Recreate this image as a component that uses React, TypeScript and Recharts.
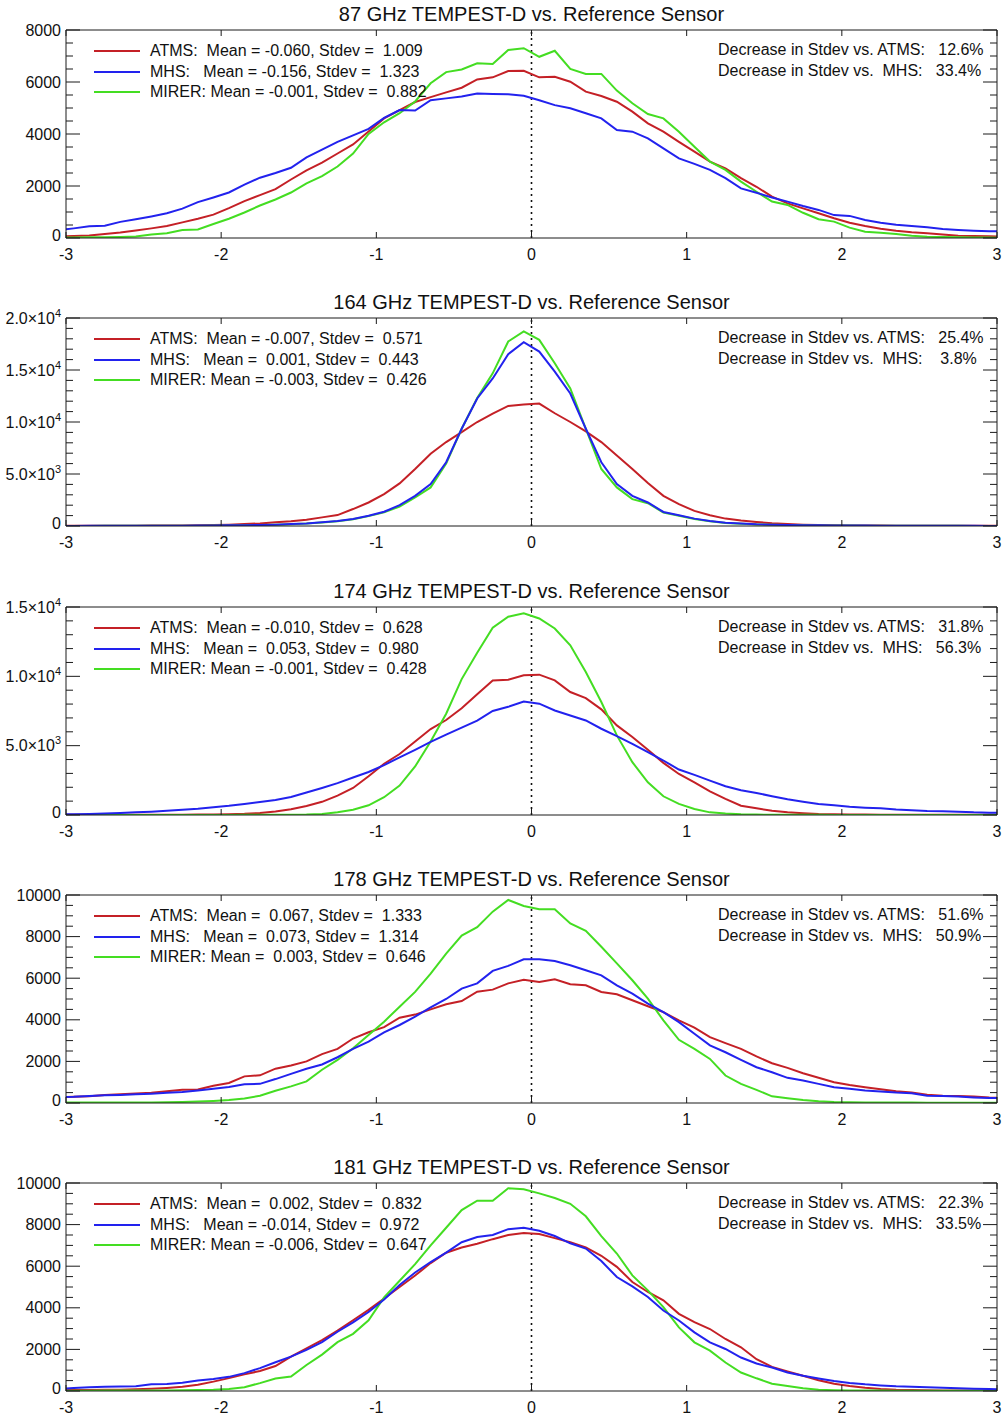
import React from 'react';
import { LineChart, Line, XAxis, YAxis, ReferenceLine } from 'recharts';

const FONT = '"Liberation Sans", Arial, Helvetica, sans-serif';
const RED = '#c42026';
const BLUE = '#2222ee';
const GREEN = '#44dd22';
const AXIS = '#1a1a1a';

// histogram bin centres (0.1 wide); one extra bin past each end so lines reach the frame
const binX = [
  -3.05, -2.95, -2.85, -2.75, -2.65, -2.55, -2.45, -2.35, -2.25, -2.15,
  -2.05, -1.95, -1.85, -1.75, -1.65, -1.55, -1.45, -1.35, -1.25, -1.15,
  -1.05, -0.95, -0.85, -0.75, -0.65, -0.55, -0.45, -0.35, -0.25, -0.15,
  -0.05, 0.05, 0.15, 0.25, 0.35, 0.45, 0.55, 0.65, 0.75, 0.85,
  0.95, 1.05, 1.15, 1.25, 1.35, 1.45, 1.55, 1.65, 1.75, 1.85,
  1.95, 2.05, 2.15, 2.25, 2.35, 2.45, 2.55, 2.65, 2.75, 2.85,
  2.95, 3.05,
];
const xTicks = [-3, -2, -1, 0, 1, 2, 3];

// ---- 87 GHz
const atms87 = [
  60, 75, 100, 150, 210, 290, 370, 460, 600, 740,
  900, 1150, 1420, 1650, 1880, 2250, 2600, 2900, 3250, 3600,
  4100, 4600, 4920, 5230, 5420, 5600, 5780, 6100, 6180, 6420,
  6430, 6180, 6200, 6010, 5630, 5460, 5240, 4860, 4410, 4090,
  3700, 3320, 2940, 2680, 2300, 1970, 1590, 1330, 1140, 950,
  760, 590, 460, 360, 280, 220, 180, 130, 90, 80,
  65, 55,
];
const mhs87 = [
  300, 370, 450, 470, 620, 720, 830, 950, 1130, 1380,
  1560, 1750, 2050, 2320, 2500, 2700, 3100, 3400, 3700, 3950,
  4200, 4620, 4920, 4900, 5300, 5370, 5440, 5560, 5540, 5525,
  5470, 5300, 5110, 4990, 4800, 4600, 4150, 4090, 3830, 3450,
  3060, 2850, 2620, 2300, 1910, 1740, 1560, 1400, 1230, 1080,
  880, 850, 690, 590, 510, 460, 410, 350, 310, 280,
  260, 250,
];
const mirer87 = [
  20, 20, 25, 30, 40, 60, 130, 180, 310, 330,
  540, 740, 980, 1250, 1480, 1750, 2100, 2380, 2750, 3250,
  4000, 4450, 4800, 5250, 5950, 6380, 6480, 6720, 6690, 7230,
  7300, 6970, 7200, 6500, 6310, 6310, 5670, 5180, 4770, 4600,
  4090, 3510, 2940, 2620, 2170, 1780, 1400, 1270, 970, 720,
  630, 400, 240, 200, 150, 90, 50, 35, 25, 20,
  15, 10,
];

// ---- 164 GHz
const atms164 = [
  20, 20, 25, 25, 30, 35, 40, 50, 60, 75,
  100, 130, 190, 250, 350, 450, 600, 830, 1050, 1630,
  2260, 3060, 4100, 5480, 6940, 8070, 9030, 10000, 10800, 11550,
  11680, 11770, 10840, 10000, 9100, 8070, 6770, 5480, 4130, 2900,
  2100, 1450, 1030, 710, 520, 390, 260, 190, 130, 100,
  70, 55, 45, 40, 35, 30, 25, 25, 20, 20,
  15, 15,
];
const mhs164 = [
  10, 10, 15, 15, 20, 20, 25, 30, 35, 45,
  55, 65, 80, 100, 130, 190, 250, 350, 480, 670,
  990, 1370, 2000, 2900, 4030, 6130, 9350, 12260, 14190, 16520,
  17680, 16770, 14840, 12740, 9350, 6130, 4030, 2900, 2260, 1350,
  1030, 710, 480, 320, 230, 160, 130, 100, 80, 65,
  55, 45, 40, 35, 30, 25, 20, 20, 15, 15,
  10, 10,
];
const mirer164 = [
  10, 10, 10, 15, 15, 20, 20, 25, 30, 35,
  45, 55, 70, 90, 120, 170, 230, 330, 460, 640,
  950, 1310, 1870, 2740, 3710, 6000, 9350, 12300, 14680, 17740,
  18710, 17900, 15650, 13230, 9350, 5480, 3710, 2580, 2190, 1300,
  980, 680, 450, 300, 210, 150, 120, 90, 70, 55,
  45, 40, 35, 30, 25, 20, 20, 15, 15, 10,
  10, 10,
];

// ---- 174 GHz
const atms174 = [
  10, 10, 10, 12, 15, 15, 20, 20, 25, 30,
  40, 55, 90, 150, 260, 420, 650, 950, 1400, 1950,
  2800, 3700, 4400, 5300, 6200, 6850, 7700, 8700, 9700, 9750,
  10070, 10120, 9710, 8870, 8430, 7620, 6460, 5620, 4700, 3760,
  2960, 2360, 1710, 1160, 670, 480, 310, 190, 120, 70,
  50, 40, 30, 25, 20, 15, 15, 10, 10, 10,
  10, 10,
];
const mhs174 = [
  50, 55, 70, 100, 140, 190, 240, 300, 370, 450,
  560, 660, 800, 940, 1080, 1300, 1620, 1950, 2300, 2700,
  3100, 3600, 4150, 4700, 5280, 5800, 6300, 6800, 7500, 7800,
  8190, 8030, 7540, 7180, 6820, 6220, 5690, 5130, 4530, 3930,
  3280, 2890, 2480, 2070, 1780, 1590, 1350, 1130, 960, 800,
  700, 600, 530, 480, 390, 340, 290, 265, 240, 190,
  170, 150,
];
const mirer174 = [
  5, 5, 5, 5, 5, 5, 5, 5, 5, 5,
  5, 5, 10, 10, 15, 20, 30, 80, 200, 380,
  700, 1280, 2120, 3500, 5300, 7300, 9800, 11700, 13500, 14300,
  14550, 14170, 13450, 12240, 10310, 8150, 5740, 3810, 2360, 1350,
  800, 430, 190, 100, 50, 30, 20, 15, 10, 10,
  5, 5, 5, 5, 5, 5, 5, 5, 5, 5,
  5, 5,
];

// ---- 178 GHz
const atms178 = [
  280, 300, 330, 380, 420, 460, 490, 560, 640, 650,
  830, 960, 1280, 1330, 1650, 1800, 2000, 2350, 2600, 3100,
  3400, 3650, 4100, 4250, 4500, 4750, 4900, 5350, 5450, 5750,
  5930, 5820, 5950, 5710, 5660, 5340, 5230, 4940, 4650, 4370,
  3970, 3620, 3170, 2880, 2600, 2240, 1910, 1690, 1430, 1210,
  1000, 870, 760, 660, 560, 510, 400, 350, 340, 310,
  260, 240,
];
const mhs178 = [
  280, 300, 340, 370, 390, 420, 450, 490, 530, 600,
  680, 770, 900, 920, 1150, 1400, 1650, 1850, 2200, 2600,
  2950, 3400, 3750, 4150, 4600, 5000, 5500, 5750, 6350, 6590,
  6910, 6910, 6830, 6620, 6380, 6140, 5660, 5260, 4780, 4370,
  3890, 3330, 2770, 2440, 2070, 1720, 1480, 1210, 1080, 920,
  760, 680, 600, 550, 500, 470, 350, 340, 310, 270,
  240, 240,
];
const mirer178 = [
  20, 20, 20, 25, 25, 30, 30, 40, 50, 70,
  100, 140, 220, 350, 590, 800, 1040, 1600, 2070, 2630,
  3270, 3910, 4630, 5340, 6220, 7180, 8050, 8450, 9200, 9760,
  9470, 9310, 9310, 8630, 8280, 7510, 6710, 5900, 5020, 3970,
  3040, 2600, 2120, 1320, 920, 630, 320, 230, 140, 80,
  50, 40, 30, 25, 20, 20, 15, 15, 10, 10,
  10, 10,
];

// ---- 181 GHz
const atms181 = [
  40, 45, 50, 55, 65, 80, 110, 150, 200, 300,
  450, 620, 800, 960, 1200, 1650, 2050, 2450, 2900, 3400,
  3900, 4450, 5000, 5550, 6150, 6650, 6900, 7080, 7300, 7500,
  7600, 7550, 7350, 7150, 6900, 6500, 5970, 5240, 4760, 4360,
  3710, 3310, 2980, 2500, 2100, 1530, 1160, 940, 730, 520,
  350, 240, 160, 100, 60, 50, 40, 30, 30, 25,
  20, 15,
];
const mhs181 = [
  100, 140, 180, 200, 220, 230, 320, 340, 400, 500,
  580, 680, 860, 1100, 1380, 1650, 1980, 2350, 2850, 3300,
  3800, 4400, 5100, 5700, 6200, 6650, 7150, 7400, 7500, 7780,
  7850, 7700, 7450, 7100, 6850, 6250, 5480, 5030, 4520, 3870,
  3390, 2820, 2340, 2020, 1610, 1320, 1130, 890, 730, 600,
  480, 390, 320, 270, 230, 210, 180, 160, 130, 110,
  100, 80,
];
const mirer181 = [
  15, 15, 15, 20, 20, 20, 25, 30, 40, 50,
  60, 100, 180, 380, 600, 700, 1250, 1750, 2350, 2750,
  3400, 4500, 5300, 6100, 7000, 7850, 8700, 9150, 9150, 9750,
  9700, 9500, 9280, 9000, 8400, 7450, 6610, 5560, 4840, 4030,
  3060, 2340, 1940, 1370, 890, 610, 350, 240, 130, 65,
  40, 30, 25, 20, 15, 15, 10, 10, 10, 10,
  10, 10,
];

// y axes: major tick values, minor step
const yMajor87 = [0, 2000, 4000, 6000, 8000];
const yMajor164 = [0, 5000, 10000, 15000, 20000];
const yMajor174 = [0, 5000, 10000, 15000];
const yMajor178 = [0, 2000, 4000, 6000, 8000, 10000];
const yMajor181 = [0, 2000, 4000, 6000, 8000, 10000];

const legend87 = ['ATMS:  Mean = -0.060, Stdev =  1.009', 'MHS:   Mean = -0.156, Stdev =  1.323', 'MIRER: Mean = -0.001, Stdev =  0.882'];
const legend164 = ['ATMS:  Mean = -0.007, Stdev =  0.571', 'MHS:   Mean =  0.001, Stdev =  0.443', 'MIRER: Mean = -0.003, Stdev =  0.426'];
const legend174 = ['ATMS:  Mean = -0.010, Stdev =  0.628', 'MHS:   Mean =  0.053, Stdev =  0.980', 'MIRER: Mean = -0.001, Stdev =  0.428'];
const legend178 = ['ATMS:  Mean =  0.067, Stdev =  1.333', 'MHS:   Mean =  0.073, Stdev =  1.314', 'MIRER: Mean =  0.003, Stdev =  0.646'];
const legend181 = ['ATMS:  Mean =  0.002, Stdev =  0.832', 'MHS:   Mean = -0.014, Stdev =  0.972', 'MIRER: Mean = -0.006, Stdev =  0.647'];

const decrease87 = ['Decrease in Stdev vs. ATMS:   12.6%', 'Decrease in Stdev vs.  MHS:   33.4%'];
const decrease164 = ['Decrease in Stdev vs. ATMS:   25.4%', 'Decrease in Stdev vs.  MHS:    3.8%'];
const decrease174 = ['Decrease in Stdev vs. ATMS:   31.8%', 'Decrease in Stdev vs.  MHS:   56.3%'];
const decrease178 = ['Decrease in Stdev vs. ATMS:   51.6%', 'Decrease in Stdev vs.  MHS:   50.9%'];
const decrease181 = ['Decrease in Stdev vs. ATMS:   22.3%', 'Decrease in Stdev vs.  MHS:   33.5%'];

const panels = [
  { title: '87 GHz TEMPEST-D vs. Reference Sensor', top: 30, atms: atms87, mhs: mhs87, mirer: mirer87, yMajor: yMajor87, minor: 500, sci: false, legend: legend87, decrease: decrease87 },
  { title: '164 GHz TEMPEST-D vs. Reference Sensor', top: 318, atms: atms164, mhs: mhs164, mirer: mirer164, yMajor: yMajor164, minor: 1000, sci: true, legend: legend164, decrease: decrease164 },
  { title: '174 GHz TEMPEST-D vs. Reference Sensor', top: 607, atms: atms174, mhs: mhs174, mirer: mirer174, yMajor: yMajor174, minor: 1000, sci: true, legend: legend174, decrease: decrease174 },
  { title: '178 GHz TEMPEST-D vs. Reference Sensor', top: 895, atms: atms178, mhs: mhs178, mirer: mirer178, yMajor: yMajor178, minor: 500, sci: false, legend: legend178, decrease: decrease178 },
  { title: '181 GHz TEMPEST-D vs. Reference Sensor', top: 1183, atms: atms181, mhs: mhs181, mirer: mirer181, yMajor: yMajor181, minor: 500, sci: false, legend: legend181, decrease: decrease181 },
];

const W = 1002;
const PLOT_LEFT = 66;
const PLOT_RIGHT = 997;
const PLOT_H = 208;
const M_TOP = 30;
const M_BOTTOM = 50;
const AX = 1; // thickness reserved for each axis

function YLabel({ x, y, v, sci }: { x: number; y: number; v: number; sci: boolean }) {
  // the zero label sits a little above its tick, as in the original plot
  const base = v === 0 ? y + 2.5 : y + 5.5;
  if (!sci || v === 0) {
    return (
      <text x={x} y={base} textAnchor="end" fontSize={16} fontFamily={FONT} fill="#111">
        {String(v)}
      </text>
    );
  }
  const e = Math.floor(Math.log10(v));
  const m = (v / Math.pow(10, e)).toFixed(1);
  return (
    <text x={x} y={base} textAnchor="end" fontSize={16} fontFamily={FONT} fill="#111">
      {m}×10<tspan dy={-7} fontSize={11}>{e}</tspan>
    </text>
  );
}

function SideTick(props: any) {
  const { x, y, payload, step, sci, side } = props;
  const v = payload.value;
  const major = Math.abs(v % step) < 1e-6;
  const len = major ? 14 : 7;
  const dir = side === 'left' ? 1 : -1;
  return (
    <g>
      <line x1={x} x2={x + dir * len} y1={y} y2={y} stroke={AXIS} strokeWidth={1} />
      {side === 'left' && major && <YLabel x={x - 5} y={y} v={v} sci={sci} />}
    </g>
  );
}

function XTick(props: any) {
  const { x, y, payload, side } = props;
  const dir = side === 'bottom' ? -1 : 1;
  return (
    <g>
      <line x1={x} x2={x} y1={y} y2={y + dir * 6} stroke={AXIS} strokeWidth={1} />
      {side === 'bottom' && (
        <text x={x} y={y + 22} textAnchor="middle" fontSize={16} fontFamily={FONT} fill="#111">
          {String(payload.value)}
        </text>
      )}
    </g>
  );
}

function Panel({ p }: { p: (typeof panels)[number] }) {
  const yMax = p.yMajor[p.yMajor.length - 1];
  const majorStep = p.yMajor[1] - p.yMajor[0];
  const yTicks: number[] = [];
  for (let v = 0; v <= yMax + 1e-6; v += p.minor) yTicks.push(v);
  const rows = binX.map((x, i) => ({ x, atms: p.atms[i], mhs: p.mhs[i], mirer: p.mirer[i] }));
  const chartTop = p.top - M_TOP;
  const sampleColors = [RED, BLUE, GREEN];

  return (
    <>
      <div
        style={{
          position: 'absolute', left: PLOT_LEFT, width: PLOT_RIGHT - PLOT_LEFT, top: p.top - 26,
          textAlign: 'center', fontFamily: FONT, fontSize: 20, lineHeight: '20px', color: '#111',
        }}
      >
        {p.title}
      </div>
      <div style={{ position: 'absolute', left: 0, top: chartTop }}>
        <LineChart
          width={W}
          height={M_TOP + PLOT_H + M_BOTTOM}
          data={rows}
          margin={{ top: M_TOP - AX, right: W - PLOT_RIGHT - AX, bottom: M_BOTTOM - AX, left: PLOT_LEFT - AX }}
          style={{ overflow: 'visible' }}
        >
          <XAxis
            dataKey="x" type="number" domain={[-3, 3]} ticks={xTicks} allowDataOverflow
            height={AX} tickSize={0} tickMargin={0} axisLine={{ stroke: AXIS }} tickLine={false}
            tick={(t: any) => <XTick {...t} side="bottom" />} interval={0}
          />
          <XAxis
            xAxisId="top" orientation="top" dataKey="x" type="number" domain={[-3, 3]} ticks={xTicks}
            allowDataOverflow height={AX} tickSize={0} tickMargin={0} axisLine={{ stroke: AXIS }} tickLine={false}
            tick={(t: any) => <XTick {...t} side="top" />} interval={0}
          />
          <YAxis
            type="number" domain={[0, yMax]} ticks={yTicks} allowDataOverflow width={AX}
            tickSize={0} tickMargin={0} axisLine={{ stroke: AXIS }} tickLine={false} interval={0}
            tick={(t: any) => <SideTick {...t} step={majorStep} sci={p.sci} side="left" />}
          />
          <YAxis
            yAxisId="right" orientation="right" type="number" domain={[0, yMax]} ticks={yTicks}
            allowDataOverflow width={AX} tickSize={0} tickMargin={0} axisLine={{ stroke: AXIS }}
            tickLine={false} interval={0}
            tick={(t: any) => <SideTick {...t} step={majorStep} sci={p.sci} side="right" />}
          />
          <ReferenceLine x={0} stroke="#111" strokeDasharray="2 4" strokeWidth={1.6} />
          <Line type="linear" dataKey="atms" stroke={RED} strokeWidth={2} dot={false} isAnimationActive={false} />
          <Line type="linear" dataKey="mirer" stroke={GREEN} strokeWidth={2} dot={false} isAnimationActive={false} />
          <Line type="linear" dataKey="mhs" stroke={BLUE} strokeWidth={2} dot={false} isAnimationActive={false} />
        </LineChart>
      </div>
      {p.legend.map((s, i) => (
        <React.Fragment key={s}>
          <div
            style={{
              position: 'absolute', left: 94, width: 46, top: p.top + 21 + i * 20.6 - 1,
              height: 0, borderTop: `2px solid ${sampleColors[i]}`,
            }}
          />
          <div
            style={{
              position: 'absolute', left: 150, top: p.top + 21 + i * 20.6 - 10, fontFamily: FONT,
              fontSize: 16, lineHeight: '20px', whiteSpace: 'pre', color: '#111',
            }}
          >
            {s}
          </div>
        </React.Fragment>
      ))}
      {p.decrease.map((s, i) => (
        <div
          key={s}
          style={{
            position: 'absolute', left: 718, top: p.top + 20 + i * 21 - 10, fontFamily: FONT,
            fontSize: 16, lineHeight: '20px', whiteSpace: 'pre', color: '#111',
          }}
        >
          {s}
        </div>
      ))}
    </>
  );
}

export default function App() {
  return (
    <div style={{ position: 'absolute', left: 0, top: 0, width: W, height: 1417, background: '#fff', overflow: 'hidden' }}>
      {panels.map((p) => (
        <Panel key={p.title} p={p} />
      ))}
    </div>
  );
}
